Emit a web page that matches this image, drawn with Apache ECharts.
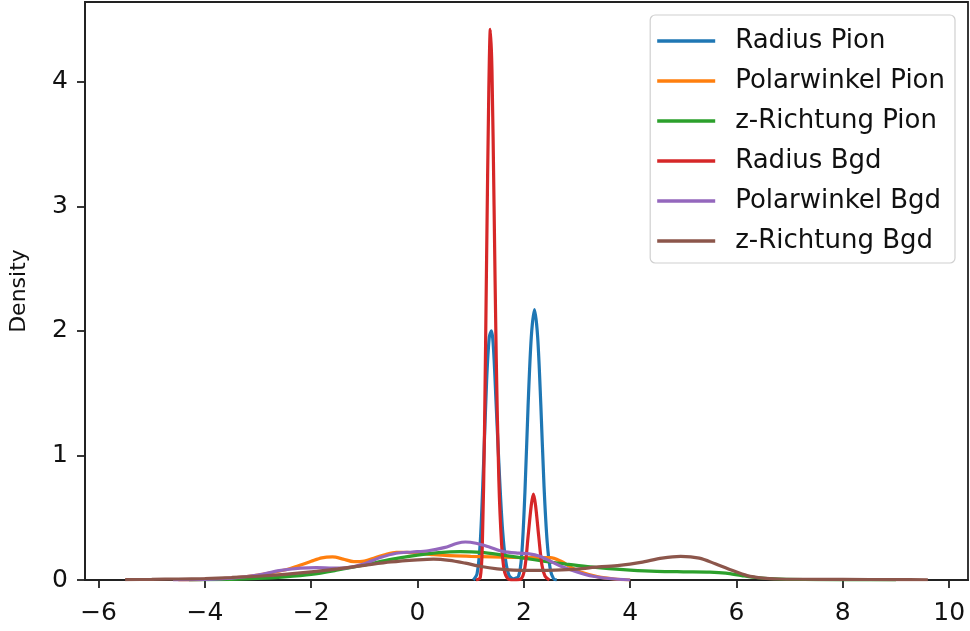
<!DOCTYPE html>
<html>
<head>
<meta charset="utf-8">
<script src="https://cdn.jsdelivr.net/npm/echarts@6/dist/echarts.min.js"></script>
<style>
  html, body { margin: 0; padding: 0; background: #fff; }
  #kdeChart { width: 970px; height: 631px; }
</style>
</head>
<body>
<div id="kdeChart"></div>
<script>
// legend names, in drawing order
var names = ["Radius Pion", "Polarwinkel Pion", "z-Richtung Pion", "Radius Bgd", "Polarwinkel Bgd", "z-Richtung Bgd"];
var xTicks = [-6, -4, -2, 0, 2, 4, 6, 8, 10];
var yTicks = [0, 1, 2, 3, 4];

// density curves as [x, density]
var radiusPion = [[1.05,0],[1.12,0.05],[1.18,0.3],[1.24,0.9],[1.3,1.6],[1.35,1.95],[1.39,2.0],[1.43,1.85],[1.48,1.4],[1.54,0.85],[1.6,0.4],[1.66,0.15],[1.72,0.04],[1.8,0.01],[1.9,0.03],[1.96,0.2],[2.02,0.7],[2.08,1.4],[2.14,1.95],[2.2,2.17],[2.26,1.95],[2.32,1.4],[2.38,0.75],[2.44,0.3],[2.5,0.08],[2.56,0.01],[2.62,0]];
var polarPion = [[-4.5,0],[-4,0.005],[-3.5,0.015],[-3,0.04],[-2.5,0.08],[-2.2,0.12],[-2,0.15],[-1.8,0.178],[-1.6,0.185],[-1.4,0.168],[-1.2,0.147],[-1.0,0.152],[-0.8,0.178],[-0.6,0.205],[-0.4,0.222],[-0.2,0.222],[0,0.215],[0.3,0.203],[0.6,0.195],[1,0.19],[1.4,0.186],[1.8,0.182],[2.2,0.18],[2.5,0.18],[2.7,0.15],[2.9,0.1],[3.1,0.06],[3.4,0.025],[3.7,0.008],[4,0]];
var zPion = [[-4.3,0],[-3.5,0.005],[-3,0.012],[-2.5,0.025],[-2,0.045],[-1.5,0.08],[-1,0.12],[-0.5,0.165],[0,0.2],[0.4,0.22],[0.8,0.228],[1.2,0.222],[1.6,0.2],[2,0.175],[2.4,0.15],[2.8,0.128],[3.2,0.108],[3.6,0.092],[4,0.08],[4.5,0.07],[5,0.066],[5.5,0.063],[5.8,0.055],[6.1,0.035],[6.4,0.018],[6.8,0.008],[7.5,0.003],[8.5,0.001],[9,0]];
var radiusBgd = [[1.1,0],[1.18,0.02],[1.22,0.3],[1.26,1.2],[1.3,2.6],[1.34,3.9],[1.37,4.42],[1.4,4.1],[1.44,3.0],[1.48,1.8],[1.53,0.8],[1.58,0.3],[1.63,0.08],[1.7,0.01],[1.8,0],[1.95,0.01],[2.02,0.1],[2.08,0.35],[2.14,0.6],[2.18,0.69],[2.22,0.6],[2.28,0.35],[2.34,0.12],[2.4,0.03],[2.48,0]];
var polarBgd = [[-4.6,0],[-4,0.005],[-3.5,0.015],[-3,0.04],[-2.6,0.075],[-2.2,0.095],[-1.9,0.1],[-1.6,0.095],[-1.3,0.1],[-1,0.13],[-0.7,0.18],[-0.4,0.215],[-0.1,0.225],[0.2,0.235],[0.5,0.26],[0.75,0.295],[0.9,0.305],[1.1,0.295],[1.35,0.265],[1.6,0.23],[1.9,0.215],[2.1,0.21],[2.3,0.19],[2.5,0.15],[2.7,0.11],[3,0.065],[3.3,0.03],[3.6,0.012],[4,0]];
var zBgd = [[-5.5,0.003],[-5,0.005],[-4.5,0.008],[-4,0.012],[-3.5,0.02],[-3,0.03],[-2.5,0.045],[-2,0.065],[-1.5,0.09],[-1,0.118],[-0.5,0.145],[0,0.162],[0.3,0.168],[0.6,0.158],[0.9,0.135],[1.2,0.108],[1.5,0.09],[1.8,0.08],[2.2,0.078],[2.6,0.08],[3,0.088],[3.4,0.105],[3.8,0.118],[4.2,0.142],[4.6,0.176],[4.95,0.19],[5.3,0.176],[5.6,0.13],[5.9,0.08],[6.2,0.035],[6.5,0.015],[6.8,0.008],[7.2,0.006],[8,0.005],[9,0.003],[9.6,0.002]];

var curves = [radiusPion, polarPion, zPion, radiusBgd, polarBgd, zBgd];
var colors = ["#1f77b4", "#ff7f0e", "#2ca02c", "#d62728", "#9467bd", "#8c564b"];

function minus(v) {
	return String(v).replace("-", "\u2212");
}

var series = [];
for (let i = 0; i < names.length; i++) {
	series.push({
		name: names[i],
		type: "line",
		data: curves[i],
		symbol: "none",
		smooth: 0.3,
		lineStyle: { width: 3.2, color: colors[i] },
		itemStyle: { color: colors[i] }
	});
}

var font = "DejaVu Sans";
var option = {
	animation: false,
	backgroundColor: "#fff",
	color: colors,
	grid: {
		left: 83, right: 2, top: 2, bottom: 51,
		show: true, borderColor: "#222", borderWidth: 1.8, backgroundColor: "transparent"
	},
	legend: {
		orient: "vertical",
		right: 15, top: 15,
		padding: [13, 10, 9, 7],
		icon: "rect",
		itemWidth: 58, itemHeight: 3.5, itemGap: 14,
		backgroundColor: "#fff",
		borderColor: "#d0d0d0", borderWidth: 1.2, borderRadius: 5,
		textStyle: { fontFamily: font, fontSize: 26, color: "#111", padding: [0, 0, 0, 15], lineHeight: 25 },
		data: names
	},
	xAxis: {
		type: "value",
		min: -6.255, max: 10.355,
		splitLine: { show: false },
		axisLine: { onZero: false, lineStyle: { color: "#222", width: 1.8 } },
		axisTick: { length: 8, lineStyle: { color: "#222", width: 1.8 }, customValues: xTicks },
		axisLabel: { customValues: xTicks, margin: 21, fontFamily: font, fontSize: 25, color: "#111", formatter: minus }
	},
	yAxis: {
		type: "value",
		min: 0, max: 4.64,
		name: "Density",
		nameLocation: "middle",
		nameGap: 55,
		nameTextStyle: { fontFamily: font, fontSize: 22, color: "#111" },
		splitLine: { show: false },
		axisLine: { show: true, onZero: false, lineStyle: { color: "#222", width: 1.8 } },
		axisTick: { show: true, length: 8, lineStyle: { color: "#222", width: 1.8 }, customValues: yTicks },
		axisLabel: { customValues: yTicks, margin: 17, fontFamily: font, fontSize: 25, color: "#111" }
	},
	series: series
};

var myChart = echarts.init(document.getElementById("kdeChart"));
myChart.setOption(option);
</script>
</body>
</html>
